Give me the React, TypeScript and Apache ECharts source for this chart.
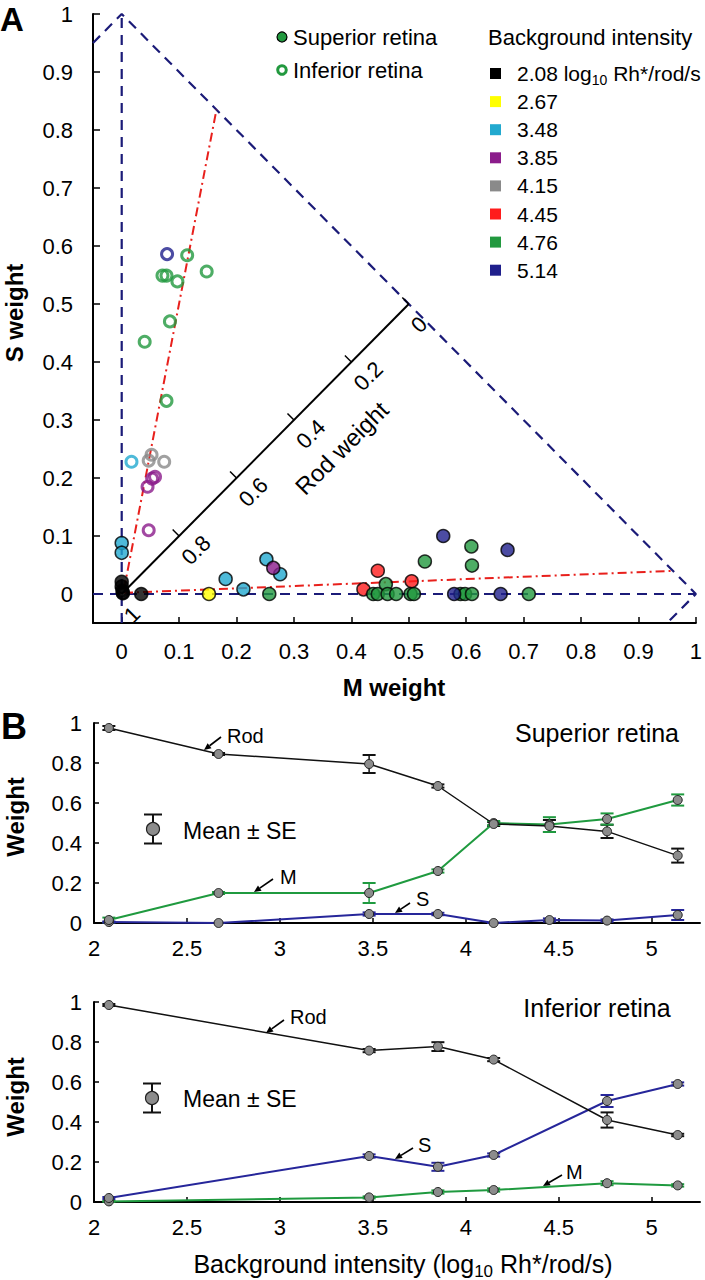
import React, { useEffect, useRef } from 'react';
import * as echarts from 'echarts';

const FONT = '"Liberation Sans", Arial, Helvetica, sans-serif';

// ---------------- Panel A: M/S weight scatter ----------------
const intensityLabels = ['2.08', '2.67', '3.48', '3.85', '4.15', '4.45', '4.76', '5.14'];
const intensityColors = ['#000000', '#ffff00', '#22a9cf', '#8b1c8b', '#8a8a8a', '#ff1c1c', '#22993f', '#1f1f8c'];

// Superior retina (filled): [M weight, S weight]
const sup208 = [[0, 0.021], [0, 0.013], [0.002, 0.002], [0.034, 0]];
const sup267 = [[0.152, 0]];
const sup348 = [[0, 0.088], [0, 0.071], [0.181, 0.026], [0.212, 0.008], [0.252, 0.06], [0.276, 0.034]];
const sup385 = [[0.264, 0.045]];
const sup415: number[][] = [];
const sup445 = [[0.421, 0.008], [0.446, 0.04], [0.505, 0.022]];
const sup476 = [[0.257, 0], [0.438, 0], [0.446, 0], [0.46, 0.017], [0.463, 0], [0.478, 0], [0.503, 0], [0.509, 0], [0.528, 0.056], [0.59, 0], [0.598, 0], [0.61, 0], [0.609, 0.082], [0.61, 0.049], [0.709, 0]];
const sup514 = [[0.56, 0.1], [0.672, 0.076], [0.579, 0], [0.66, 0]];

// Inferior retina (open)
const inf208 = [[0.002, 0.001], [0.001, 0.006]];
const inf267: number[][] = [];
const inf348 = [[0.017, 0.228]];
const inf385 = [[0.045, 0.185], [0.053, 0.199], [0.058, 0.202], [0.047, 0.11]];
const inf415 = [[0.047, 0.23], [0.052, 0.24], [0.074, 0.228]];
const inf445: number[][] = [];
const inf476 = [[0.114, 0.584], [0.071, 0.549], [0.078, 0.549], [0.097, 0.539], [0.148, 0.556], [0.04, 0.435], [0.084, 0.47], [0.078, 0.333]];
const inf514 = [[0.079, 0.586]];

// Guide lines (data space)
const triangleEdge = [[-0.05, 0.95], [0, 1], [1, 0], [0.95, -0.05]];
const sGuide = [[0, -0.05], [0, 1]];
const mGuide = [[-0.05, 0], [1, 0]];
const fitInferior = [[0.004, 0.008], [0.165, 0.835]];
const fitSuperior = [[0.004, 0.002], [0.96, 0.04]];
const rodAxisLine = [[0, 0], [0.5, 0.5]];
const rodTicks = [1, 0.8, 0.6, 0.4, 0.2, 0];
const aTicks = [0, 0.1, 0.2, 0.3, 0.4, 0.5, 0.6, 0.7, 0.8, 0.9, 1];

// ---------------- Panel B: weights vs background ----------------
const bxTicks = [2, 2.5, 3, 3.5, 4, 4.5, 5];
const byTicks = [0, 0.2, 0.4, 0.6, 0.8, 1];

const supX = [2.08, 2.67, 3.48, 3.85, 4.15, 4.45, 4.76, 5.14];
const supRod = [0.975, 0.845, 0.795, 0.685, 0.495, 0.485, 0.458, 0.337];
const supRodSE = [0.01, 0.005, 0.045, 0.008, 0.01, 0.03, 0.033, 0.035];
const supM = [0.015, 0.15, 0.15, 0.26, 0.5, 0.492, 0.52, 0.615];
const supMSE = [0.012, 0.005, 0.05, 0.008, 0.01, 0.037, 0.028, 0.028];
const supS = [0.005, 0, 0.045, 0.045, 0, 0.015, 0.012, 0.04];
const supSSE = [0.003, 0, 0.008, 0.006, 0, 0.008, 0.006, 0.025];

const infX = [2.08, 3.48, 3.85, 4.15, 4.76, 5.14];
const infRod = [0.985, 0.757, 0.777, 0.712, 0.41, 0.335];
const infRodSE = [0.005, 0.008, 0.022, 0.008, 0.038, 0.006];
const infS = [0.02, 0.23, 0.176, 0.235, 0.505, 0.59];
const infSSE = [0.005, 0.008, 0.02, 0.008, 0.03, 0.008];
const infM = [0.003, 0.023, 0.05, 0.06, 0.094, 0.083];
const infMSE = [0.002, 0.005, 0.008, 0.008, 0.01, 0.006];

const ROD_C = '#111111';
const M_C = '#1f9a3f';
const S_C = '#26269a';

const zip = (xs: number[], ys: number[]) => xs.map((x, i) => [x, ys[i]]);

let ctx: CanvasRenderingContext2D | null = null;
function measure(text: string, size: number, weight = 'normal') {
  if (!ctx) ctx = document.createElement('canvas').getContext('2d');
  if (!ctx) return text.length * size * 0.55;
  ctx.font = `${weight} ${size}px ${FONT}`;
  return ctx.measureText(text).width;
}

function txt(text: string, x: number, y: number, size: number, opts: any = {}) {
  return {
    type: 'text',
    x,
    y,
    rotation: opts.rotation || 0,
    z: 100,
    silent: true,
    style: {
      text,
      fontSize: size,
      fontFamily: FONT,
      fontWeight: opts.weight || 'normal',
      fill: opts.color || '#000',
      align: opts.align || 'left',
      verticalAlign: 'middle',
    },
  };
}

// text with a subscript part: parts = [text, size, dy]
function run(parts: [string, number, number][], x: number, y: number, anchor: 'left' | 'center') {
  const widths = parts.map(([t, s]) => measure(t, s));
  const total = widths.reduce((a, b) => a + b, 0);
  let cx = anchor === 'center' ? x - total / 2 : x;
  const els: any[] = [];
  parts.forEach(([t, s, dy], i) => {
    els.push(txt(t, cx, y + dy, s));
    cx += widths[i];
  });
  return els;
}

function arrow(x1: number, y1: number, x2: number, y2: number, color = '#000') {
  const dx = x2 - x1;
  const dy = y2 - y1;
  const len = Math.hypot(dx, dy);
  const ux = dx / len;
  const uy = dy / len;
  const hl = 7;
  const hw = 3.2;
  const bx = x2 - ux * hl;
  const by = y2 - uy * hl;
  return [
    { type: 'line', z: 100, silent: true, shape: { x1, y1, x2: bx, y2: by }, style: { stroke: color, lineWidth: 1.6 } },
    {
      type: 'polygon',
      z: 100,
      silent: true,
      shape: { points: [[x2, y2], [bx - uy * hw, by + ux * hw], [bx + uy * hw, by - ux * hw]] },
      style: { fill: color },
    },
  ];
}

function meanSeLegend(x: number, yc: number) {
  const half = 14.5;
  return [
    { type: 'line', z: 100, shape: { x1: x, y1: yc - half, x2: x, y2: yc + half }, style: { stroke: '#111', lineWidth: 2 } },
    { type: 'line', z: 100, shape: { x1: x - 9, y1: yc - half, x2: x + 9, y2: yc - half }, style: { stroke: '#111', lineWidth: 2 } },
    { type: 'line', z: 100, shape: { x1: x - 9, y1: yc + half, x2: x + 9, y2: yc + half }, style: { stroke: '#111', lineWidth: 2 } },
    { type: 'circle', z: 101, shape: { cx: x, cy: yc, r: 6.5 }, style: { fill: '#8c8c8c', stroke: '#222', lineWidth: 1.2 } },
  ];
}

function valueAxis(grid: number, min: number, max: number, ticks: number[], o: any) {
  return {
    type: 'value',
    gridIndex: grid,
    min,
    max,
    axisLine: { show: true, onZero: false, lineStyle: { color: '#000', width: 2 } },
    axisTick: { show: true, inside: true, length: o.tickLen, customValues: ticks, lineStyle: { color: '#000', width: 1.5 } },
    axisLabel: { customValues: ticks, fontSize: o.fontSize, fontFamily: FONT, color: '#000', margin: o.margin },
    splitLine: { show: false },
  };
}

function guide(data: number[][], color: string, width: number, dash: any, z: number) {
  return {
    type: 'line',
    xAxisIndex: 0,
    yAxisIndex: 0,
    data,
    symbol: 'none',
    silent: true,
    clip: false,
    z,
    lineStyle: { color, width, type: dash },
  };
}

function errSeries(axis: number, xs: number[], ys: number[], ses: number[], color: string) {
  return {
    type: 'custom',
    xAxisIndex: axis,
    yAxisIndex: axis,
    z: 2,
    silent: true,
    encode: { x: 0, y: 1 },
    data: xs.map((x, i) => [x, ys[i], ses[i]]),
    renderItem: (_p: any, api: any) => {
      const x = api.value(0);
      const y = api.value(1);
      const e = api.value(2);
      const t = api.coord([x, y + e]);
      const b = api.coord([x, y - e]);
      const hw = 6.5;
      return {
        type: 'group',
        children: [
          { type: 'line', shape: { x1: t[0], y1: t[1], x2: b[0], y2: b[1] }, style: { stroke: color, lineWidth: 1.5 } },
          { type: 'line', shape: { x1: t[0] - hw, y1: t[1], x2: t[0] + hw, y2: t[1] }, style: { stroke: color, lineWidth: 2 } },
          { type: 'line', shape: { x1: b[0] - hw, y1: b[1], x2: b[0] + hw, y2: b[1] }, style: { stroke: color, lineWidth: 2 } },
        ],
      };
    },
  };
}

function meanLine(axis: number, xs: number[], ys: number[], color: string, width: number) {
  return {
    type: 'line',
    xAxisIndex: axis,
    yAxisIndex: axis,
    data: zip(xs, ys),
    symbol: 'circle',
    symbolSize: 9,
    z: 3,
    silent: true,
    itemStyle: { color: '#8c8c8c', borderColor: '#222', borderWidth: 1 },
    lineStyle: { color, width },
  };
}

function buildOption() {
  const supGroups = [sup208, sup267, sup348, sup385, sup415, sup445, sup476, sup514];
  const infGroups = [inf208, inf267, inf348, inf385, inf415, inf445, inf476, inf514];

  const navy = '#1b1b78';
  const dash = [10, 7];
  const series: any[] = [
    guide(sGuide, navy, 2.2, dash, 1),
    guide(mGuide, navy, 2.2, dash, 1),
    guide(triangleEdge, navy, 2.2, dash, 1),
    guide(fitInferior, '#e8201c', 2, [9, 4, 2, 4], 1),
    guide(fitSuperior, '#e8201c', 2, [9, 4, 2, 4], 1),
    guide(rodAxisLine, '#000', 2, 'solid', 2),
    {
      type: 'custom',
      xAxisIndex: 0,
      yAxisIndex: 0,
      z: 2,
      silent: true,
      encode: { x: 0, y: 1 },
      data: rodTicks.map((r) => [(1 - r) / 2, (1 - r) / 2, r]),
      renderItem: (params: any, api: any) => {
        const p = api.coord([api.value(0), api.value(1)]);
        const r = api.value(2);
        const children: any[] = [
          { type: 'line', shape: { x1: p[0], y1: p[1], x2: p[0] - 6.5, y2: p[1] - 6.5 }, style: { stroke: '#000', lineWidth: 1.5 } },
          {
            type: 'text',
            x: p[0] + 6,
            y: p[1] + 25,
            rotation: Math.PI / 4,
            style: { text: String(r), fontSize: 22, fontFamily: FONT, fill: '#000', align: 'left', verticalAlign: 'middle' },
          },
        ];
        if (params.dataIndex === 0) {
          const c = api.coord([0.317, 0.317]);
          children.push({
            type: 'text',
            x: c[0] + 38,
            y: c[1] + 38,
            rotation: Math.PI / 4,
            style: { text: 'Rod weight', fontSize: 24, fontFamily: FONT, fill: '#000', align: 'center', verticalAlign: 'middle' },
          });
        }
        return { type: 'group', children };
      },
    },
  ];

  infGroups.forEach((g, i) => {
    if (!g.length) return;
    series.push({
      type: 'scatter',
      xAxisIndex: 0,
      yAxisIndex: 0,
      data: g,
      symbol: 'circle',
      symbolSize: 11,
      z: 4,
      silent: true,
      itemStyle: { color: 'rgba(255,255,255,0)', borderColor: intensityColors[i], borderWidth: 3 },
    });
  });
  supGroups.forEach((g, i) => {
    if (!g.length) return;
    series.push({
      type: 'scatter',
      xAxisIndex: 0,
      yAxisIndex: 0,
      data: g,
      symbol: 'circle',
      symbolSize: 13,
      z: 5,
      silent: true,
      itemStyle: { color: intensityColors[i], borderColor: '#000', borderWidth: 1.5 },
    });
  });

  // Panel B series
  series.push(
    errSeries(1, supX, supRod, supRodSE, ROD_C),
    errSeries(1, supX, supM, supMSE, M_C),
    errSeries(1, supX, supS, supSSE, S_C),
    meanLine(1, supX, supS, S_C, 2),
    meanLine(1, supX, supM, M_C, 2),
    meanLine(1, supX, supRod, ROD_C, 1.5),
    errSeries(2, infX, infRod, infRodSE, ROD_C),
    errSeries(2, infX, infM, infMSE, M_C),
    errSeries(2, infX, infS, infSSE, S_C),
    meanLine(2, infX, infM, M_C, 2),
    meanLine(2, infX, infS, S_C, 2),
    meanLine(2, infX, infRod, ROD_C, 1.5)
  );

  // Graphic elements
  const g: any[] = [];
  g.push(txt('A', 0, 19, 33, { weight: 'bold' }));
  g.push(txt('S weight', 14, 313, 24, { weight: 'bold', rotation: Math.PI / 2, align: 'center' }));
  g.push(txt('M weight', 394, 687, 24, { weight: 'bold', align: 'center' }));
  // retina legend
  g.push({ type: 'circle', z: 100, shape: { cx: 282, cy: 37, r: 5 }, style: { fill: '#22993f', stroke: '#000', lineWidth: 1.2 } });
  g.push(txt('Superior retina', 293, 37, 22));
  g.push({ type: 'circle', z: 100, shape: { cx: 282, cy: 70, r: 4.3 }, style: { fill: 'none', stroke: '#22993f', lineWidth: 3 } });
  g.push(txt('Inferior retina', 293, 70, 22));
  // intensity legend
  g.push(txt('Background intensity', 488, 37, 22));
  intensityLabels.forEach((lab, i) => {
    const y = 73.5 + i * 28.1;
    g.push({ type: 'rect', z: 100, shape: { x: 490, y: y - 5.5, width: 11, height: 11 }, style: { fill: intensityColors[i] } });
    if (i === 0) {
      g.push(...run([[lab + ' log', 21, 0], ['10', 14, 6], [' Rh*/rod/s', 21, 0]], 517, y, 'left'));
    } else {
      g.push(txt(lab, 517, y, 21));
    }
  });

  // Panel B
  g.push(txt('B', 1, 726, 36, { weight: 'bold' }));
  g.push(txt('Weight', 15, 817, 24, { weight: 'bold', rotation: Math.PI / 2, align: 'center' }));
  g.push(txt('Weight', 15, 1097, 24, { weight: 'bold', rotation: Math.PI / 2, align: 'center' }));
  g.push(txt('Superior retina', 597, 733, 25, { align: 'center' }));
  g.push(txt('Inferior retina', 597, 1008, 25, { align: 'center' }));
  g.push(...meanSeLegend(153, 829));
  g.push(txt('Mean ± SE', 183, 831, 23));
  g.push(...meanSeLegend(152, 1098));
  g.push(txt('Mean ± SE', 183, 1099, 23));

  g.push(txt('Rod', 227, 736, 20));
  g.push(...arrow(221, 737, 204, 750));
  g.push(txt('M', 280, 877, 20));
  g.push(...arrow(273, 879, 254, 892));
  g.push(txt('S', 416, 899, 20));
  g.push(...arrow(410, 903, 395, 913));

  g.push(txt('Rod', 290, 1017, 20));
  g.push(...arrow(284, 1020, 266, 1033));
  g.push(txt('S', 418, 1145, 20));
  g.push(...arrow(413, 1148, 395, 1159));
  g.push(txt('M', 566, 1172, 20));
  g.push(...arrow(562, 1175, 543, 1186));

  g.push(...run([['Background intensity (log', 25, 0], ['10', 17, 7], [' Rh*/rod/s)', 25, 0]], 403, 1264, 'center'));

  return {
    animation: false,
    backgroundColor: '#ffffff',
    grid: [
      { left: 93, top: 14, width: 610, height: 609 },
      { left: 94, top: 723, width: 606, height: 200 },
      { left: 94, top: 1002, width: 606, height: 200 },
    ],
    xAxis: [
      valueAxis(0, -0.05, 1, aTicks, { tickLen: 6, fontSize: 22, margin: 17 }),
      valueAxis(1, 2, 5.26, bxTicks, { tickLen: 5, fontSize: 22, margin: 14 }),
      valueAxis(2, 2, 5.26, bxTicks, { tickLen: 5, fontSize: 22, margin: 14 }),
    ],
    yAxis: [
      valueAxis(0, -0.05, 1, aTicks, { tickLen: 7, fontSize: 22, margin: 20 }),
      valueAxis(1, 0, 1, byTicks, { tickLen: 5, fontSize: 22, margin: 12 }),
      valueAxis(2, 0, 1, byTicks, { tickLen: 5, fontSize: 22, margin: 12 }),
    ],
    series,
    graphic: { elements: g },
  };
}

export default function App() {
  const ref = useRef<HTMLDivElement>(null);
  useEffect(() => {
    if (!ref.current) return;
    const chart = echarts.init(ref.current, null, { renderer: 'svg' });
    chart.setOption(buildOption() as any);
    return () => chart.dispose();
  }, []);
  return (
    <div
      ref={ref}
      style={{ position: 'absolute', left: 0, top: 0, width: 705, height: 1280, background: '#fff' }}
    />
  );
}
